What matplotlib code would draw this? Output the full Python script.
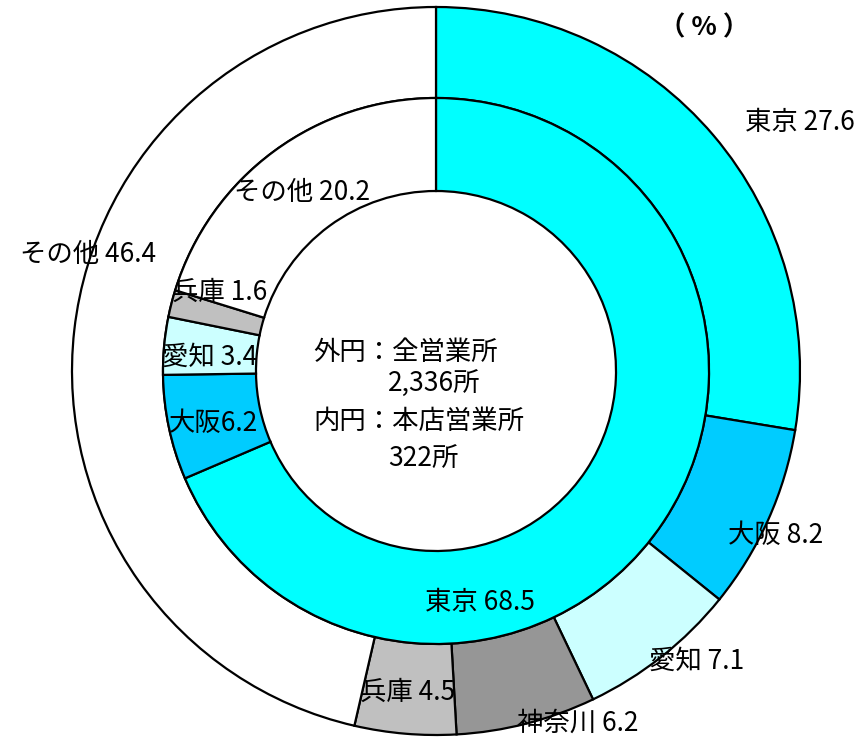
import matplotlib
matplotlib.use("Agg")
import matplotlib.pyplot as plt

plt.rcParams['font.family'] = ['Noto Sans CJK JP', 'DejaVu Sans']

# Outer ring: all offices (2,336)
outer_labels = ['東京', '大阪', '愛知', '神奈川', '兵庫', 'その他']
outer_values = [27.6, 8.2, 7.1, 6.2, 4.5, 46.4]
outer_colors = ['#00FFFF', '#00CCFF', '#CCFFFF', '#969696', '#C0C0C0', '#FFFFFF']

# Inner ring: head offices (322)
inner_labels = ['東京', '大阪', '愛知', '兵庫', 'その他']
inner_values = [68.5, 6.2, 3.4, 1.6, 20.2]
inner_colors = ['#00FFFF', '#00CCFF', '#CCFFFF', '#C0C0C0', '#FFFFFF']

W, H = 863, 743
fig = plt.figure(figsize=(W / 100, H / 100), dpi=100)
ax = fig.add_axes([0, 0, 1, 1])

cx, cy = 436, H - 371
r_out, r_mid, r_in = 364, 273, 180
edge = dict(edgecolor='black', linewidth=1.6)

ax.pie(outer_values, colors=outer_colors, startangle=90, counterclock=False,
       radius=r_out, center=(cx, cy), wedgeprops=dict(width=r_out - r_mid, **edge),
       frame=True)
ax.pie(inner_values, colors=inner_colors, startangle=90, counterclock=False,
       radius=r_mid, center=(cx, cy), wedgeprops=dict(width=r_mid - r_in, **edge),
       frame=True)
ax.set_xlim(0, W)
ax.set_ylim(0, H)
ax.set_aspect('equal')
ax.axis('off')

fs = 19
# label placements (pixel coords, y from top)
outer_pos = [(800, 122), (776, 535), (697, 661), (578, 723), (408, 692), (88, 255)]
inner_pos = [(480, 602), (213, 423), (210, 357), (220, 292), (302, 193)]
outer_sep = [' ', ' ', ' ', ' ', ' ', ' ']
inner_sep = [' ', '', ' ', ' ', ' ']

for lab, v, (x, y), s in zip(outer_labels, outer_values, outer_pos, outer_sep):
    ax.text(x, H - y, f'{lab}{s}{v:.1f}', ha='center', va='center', fontsize=fs)
for lab, v, (x, y), s in zip(inner_labels, inner_values, inner_pos, inner_sep):
    ax.text(x, H - y, f'{lab}{s}{v:.1f}', ha='center', va='center', fontsize=fs)

ax.text(313, H - 352, '外円：全営業所', ha='left', va='center', fontsize=fs)
ax.text(388, H - 384, '2,336所', ha='left', va='center', fontsize=fs)
ax.text(313, H - 421, '内円：本店営業所', ha='left', va='center', fontsize=fs)
ax.text(388, H - 459, '322所', ha='left', va='center', fontsize=fs)
ax.text(704, H - 28, '（ % ）', ha='center', va='center', fontsize=fs,
        fontweight='bold')

fig.savefig('out.png', dpi=100, facecolor='white')
